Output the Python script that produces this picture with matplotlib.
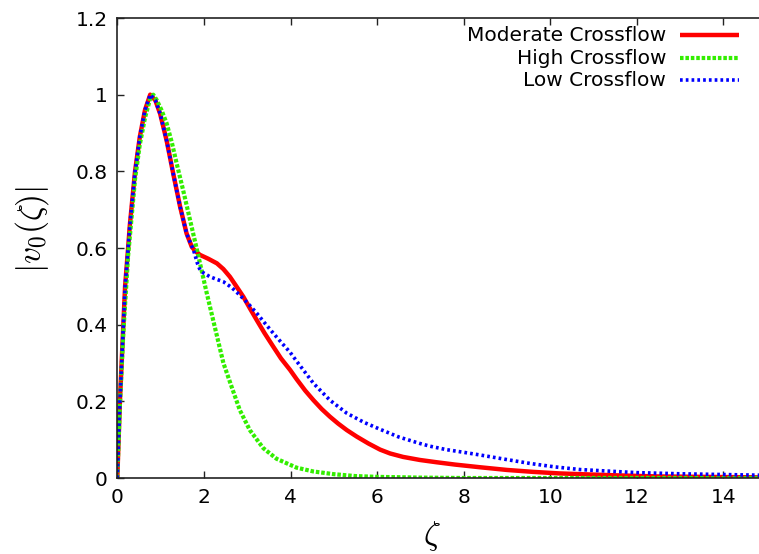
import matplotlib
matplotlib.use("Agg")
import matplotlib.pyplot as plt
from matplotlib.ticker import FormatStrFormatter

plt.rcParams["mathtext.fontset"] = "cm"
plt.rcParams["font.family"] = ["DejaVu Sans"]

# |v0(zeta)| profiles for the three crossflow cases
zeta_mod = [0, 0.06, 0.14, 0.18, 0.25, 0.29, 0.41, 0.52, 0.64, 0.76, 0.88, 0.99,
            1.14, 1.29, 1.45, 1.60, 1.72, 1.80, 1.91, 2.10, 2.30, 2.45, 2.60, 2.75,
            2.91, 3.06, 3.22, 3.40, 3.60, 3.78, 3.99, 4.14, 4.34, 4.53, 4.72, 4.91,
            5.10, 5.30, 5.53, 5.80, 6.07, 6.30, 6.60, 6.99, 7.38, 7.80, 8.38, 9.00,
            9.60, 10.20, 10.69, 11.50, 12.50, 13.50, 14.50, 15.00]
v_mod = [0, 0.20, 0.40, 0.50, 0.60, 0.66, 0.80, 0.89, 0.96, 1.00, 0.985, 0.95,
         0.88, 0.795, 0.708, 0.638, 0.603, 0.592, 0.582, 0.572, 0.560, 0.545, 0.525, 0.500,
         0.473, 0.443, 0.412, 0.378, 0.343, 0.312, 0.282, 0.258, 0.228, 0.203, 0.180, 0.160,
         0.142, 0.125, 0.108, 0.090, 0.074, 0.064, 0.055, 0.047, 0.041, 0.035, 0.028, 0.021,
         0.016, 0.012, 0.010, 0.007, 0.004, 0.003, 0.002, 0.0015]

zeta_high = [0, 0.06, 0.14, 0.25, 0.41, 0.52, 0.64, 0.76, 0.83, 0.91, 1.02, 1.14,
             1.26, 1.37, 1.52, 1.68, 1.83, 1.95, 2.06, 2.26, 2.45, 2.64, 2.83, 3.06,
             3.37, 3.68, 4.14, 4.53, 5.00, 5.50, 6.00, 7.00, 8.00, 10.0, 12.0, 15.0]
v_high = [0, 0.19, 0.38, 0.58, 0.78, 0.87, 0.94, 0.99, 1.00, 0.986, 0.96, 0.925,
          0.875, 0.821, 0.751, 0.673, 0.600, 0.540, 0.485, 0.390, 0.300, 0.238, 0.177, 0.125,
          0.078, 0.050, 0.027, 0.017, 0.010, 0.005, 0.003, 0.001, 0, 0, 0, 0]

zeta_low = [0, 0.06, 0.14, 0.18, 0.25, 0.29, 0.41, 0.52, 0.64, 0.76, 0.88, 0.99,
            1.14, 1.29, 1.45, 1.60, 1.70, 1.76, 1.85, 1.91, 1.99, 2.14, 2.30, 2.45,
            2.64, 2.83, 3.02, 3.22, 3.40, 3.60, 3.80, 3.99, 4.14, 4.53, 4.91, 5.30,
            5.70, 6.07, 6.50, 6.99, 7.22, 7.60, 8.00, 8.38, 9.00, 9.53, 10.10, 10.69,
            11.50, 12.00, 13.00, 14.00, 15.00]
v_low = [0, 0.20, 0.40, 0.50, 0.60, 0.66, 0.80, 0.89, 0.96, 1.00, 0.985, 0.95,
         0.88, 0.795, 0.708, 0.638, 0.610, 0.595, 0.560, 0.543, 0.535, 0.525, 0.518, 0.512,
         0.497, 0.477, 0.455, 0.430, 0.405, 0.378, 0.352, 0.328, 0.305, 0.247, 0.203, 0.169,
         0.145, 0.127, 0.107, 0.090, 0.083, 0.074, 0.067, 0.060, 0.048, 0.038, 0.029, 0.022,
         0.017, 0.014, 0.011, 0.009, 0.007]

labels = ["Moderate Crossflow", "High Crossflow", "Low Crossflow"]
colors = ["#ff0000", "#33ee00", "#0000ff"]
widths = [3.2, 3.0, 2.6]
dashes = [None, (0.85, 0.45), (0.75, 0.85)]

fig = plt.figure(figsize=(7.59, 5.54), dpi=100)
ax = fig.add_axes([117.3 / 759, 76 / 554, 15 * 43.3 / 759, 460 / 554])

series = [(zeta_mod, v_mod), (zeta_high, v_high), (zeta_low, v_low)]
for (z, v), c, lw, d in zip(series, colors, widths, dashes):
    ln, = ax.plot(z, v, color=c, lw=lw, solid_capstyle="butt", dash_capstyle="butt")
    if d is not None:
        ln.set_dashes(d)

ax.set_xlim(0, 15)
ax.set_ylim(0, 1.2)
ax.set_xticks(range(0, 15, 2))
ax.set_yticks([0, 0.2, 0.4, 0.6, 0.8, 1.0, 1.2])
ax.yaxis.set_major_formatter(FormatStrFormatter("%g"))
ax.tick_params(direction="in", length=5, width=1, labelsize=14.5, pad=7,
               top=True, right=True, colors="#222222", labelcolor="black")
for s in ax.spines.values():
    s.set_linewidth(1.2)
    s.set_color("#222222")

# key in the upper right: right-aligned text with the line sample after it
rows_y = [0.963, 0.912, 0.865]
for lab, c, lw, d, yy in zip(labels, colors, widths, dashes, rows_y):
    ax.text(0.845, yy, lab, transform=ax.transAxes, ha="right", va="center", fontsize=14.5)
    ln, = ax.plot([0.866, 0.957], [yy, yy], transform=ax.transAxes, color=c, lw=lw,
                  solid_capstyle="butt", dash_capstyle="butt", clip_on=False)
    if d is not None:
        ln.set_dashes(d)

fig.text(32 / 759, 1 - 230 / 554, r"$|v_0(\zeta)|$", rotation=90, ha="center",
         va="center", fontsize=24)
fig.text(432 / 759, 1 / 554, r"$\zeta$", ha="center", va="bottom", fontsize=24)

fig.savefig("out.png", dpi=100)
